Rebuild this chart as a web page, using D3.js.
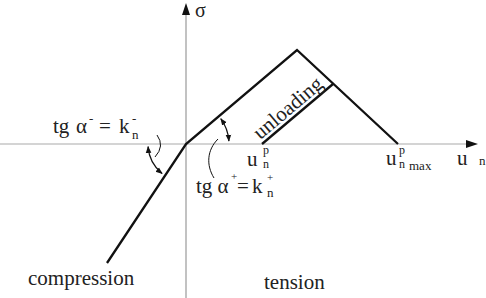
<!DOCTYPE html>
<html><head><meta charset="utf-8">
<script src="https://cdn.jsdelivr.net/npm/d3@7"></script>
<style>body{margin:0;background:#fff}svg{display:block}</style>
</head><body><svg id="c" width="486" height="298"></svg>
<script>
// constitutive law: displacement u_n vs traction sigma (abstract units)
const envelopeU = [-0.79, 0, 1.11, 2.12];
const envelopeSigma = [-1.19, 0, 0.94, 0];
const unloadU = [0.76, 1.47];
const unloadSigma = [0, 0.60];
const axisU = [-1.86, 2.92];
const axisSigma = [1.41, -1.54];
const labels = ["compression", "tension", "unloading"];

const W = 486, H = 298;
const FONT = "'Liberation Serif', 'Times New Roman', serif";
const x = d3.scaleLinear().domain([-1.86, 3.0]).range([0, W]);
const y = d3.scaleLinear().domain([1.44, -1.54]).range([0, H]);
const svg = d3.select("#c");

const defs = svg.append("defs");
defs.append("marker").attr("id","ah").attr("viewBox","0 0 10 10").attr("refX",9).attr("refY",5)
  .attr("markerWidth",7).attr("markerHeight",7).attr("markerUnits","userSpaceOnUse")
  .attr("orient","auto-start-reverse")
  .append("path").attr("d","M0,1 L10,5 L0,9 Z").attr("fill","#111");

// axes
const x0 = x(0), y0 = y(0);
svg.append("line").attr("x1", x(axisU[0])).attr("x2", x(axisU[1]) - 8).attr("y1", y0).attr("y2", y0)
  .attr("stroke", "#aaa").attr("stroke-width", 1.2);
svg.append("line").attr("x1", x0).attr("x2", x0).attr("y1", y(axisSigma[0]) + 8).attr("y2", y(axisSigma[1]))
  .attr("stroke", "#999").attr("stroke-width", 1.2);
const hx = x(axisU[1]);
svg.append("path").attr("d", `M${hx},${y0} L${hx-12},${y0-4} L${hx-12},${y0+4} Z`).attr("fill", "#111");
const vy = y(axisSigma[0]);
svg.append("path").attr("d", `M${x0},${vy} L${x0-4},${vy+12} L${x0+4},${vy+12} Z`).attr("fill", "#111");

// envelope
const line = d3.line().x(d => x(d[0])).y(d => y(d[1]));
svg.append("path").attr("d", line(d3.zip(envelopeU, envelopeSigma)))
  .attr("fill", "none").attr("stroke", "#111").attr("stroke-width", 2.3).attr("stroke-linejoin", "miter");
svg.append("path").attr("d", line(d3.zip(unloadU, unloadSigma)))
  .attr("fill", "none").attr("stroke", "#111").attr("stroke-width", 2.3);

// angle arcs centred on origin
function arcPath(r, a1, a2) {
  const p1 = [x0 + r*Math.cos(a1*Math.PI/180), y0 + r*Math.sin(a1*Math.PI/180)];
  const p2 = [x0 + r*Math.cos(a2*Math.PI/180), y0 + r*Math.sin(a2*Math.PI/180)];
  const sweep = a2 > a1 ? 1 : 0;
  return `M${p1[0]},${p1[1]} A${r},${r} 0 0 ${sweep} ${p2[0]},${p2[1]}`;
}
svg.append("path").attr("d", arcPath(38, 176, 129)).attr("fill","none").attr("stroke","#111").attr("stroke-width",1.2)
  .attr("marker-start","url(#ah)").attr("marker-end","url(#ah)");
svg.append("path").attr("d", arcPath(43, -36, -4)).attr("fill","none").attr("stroke","#111").attr("stroke-width",1.2)
  .attr("marker-start","url(#ah)").attr("marker-end","url(#ah)");
// leaders
svg.append("path").attr("d","M157,135 Q165,146 155,157").attr("fill","none").attr("stroke","#111").attr("stroke-width",1);
svg.append("path").attr("d","M214,178 C206,165 207,150 218,139").attr("fill","none").attr("stroke","#111").attr("stroke-width",1);

function t(txt, px, py, size) {
  return svg.append("text").attr("x", px).attr("y", py)
    .style("font-size", size + "px").style("font-family", FONT).style("fill", "#222").text(txt);
}
// sigma
t("σ", 195, 17, 20);
// u n
t("u", 457, 165, 21); t("n", 479, 165, 13);
// u^p_n
t("u", 247, 166, 21); t("p", 263, 154, 12); t("n", 263, 168, 12);
// u^p_n max
t("u", 386, 165, 21); t("p", 399, 154, 12); t("n", 399, 168, 12); t("max", 409, 170, 13);
// tg alpha-
t("tg", 53, 133, 21); t("α", 76, 133, 21); t("-", 89, 123, 13); t("=", 99, 133, 21); t("k", 119, 133, 21);
t("-", 132, 123, 13); t("n", 132, 139, 13);
// tg alpha+
t("tg α", 196, 193, 21); t("+", 231, 180, 11); t("=", 237, 193, 21); t("k", 252, 193, 21);
t("+", 267, 181, 11); t("n", 267, 197, 13);
// compression / tension
t(labels[0], 28, 285, 21);
t(labels[1], 264, 289, 21);
// unloading along the unloading line
const ang = Math.atan2(y(unloadSigma[1]) - y(unloadSigma[0]), x(unloadU[1]) - x(unloadU[0])) * 180 / Math.PI;
const bx = x(unloadU[0]), by = y(unloadSigma[0]);
const rad = ang * Math.PI / 180;
const sx = bx + 1*Math.cos(rad) + 4*Math.sin(rad), sy = by + 1*Math.sin(rad) - 4*Math.cos(rad);
svg.append("text").attr("transform", `translate(${sx},${sy}) rotate(${ang})`)
  .style("font-size", "21px").style("font-family", FONT).style("fill", "#222").text(labels[2]);
</script></body></html>
